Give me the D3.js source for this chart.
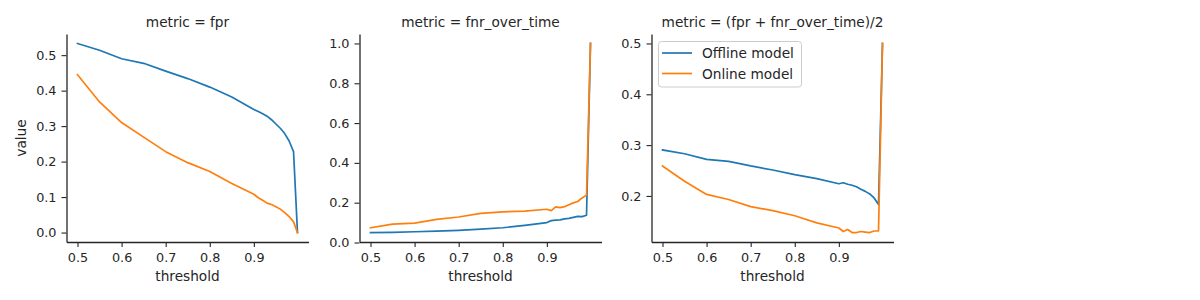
<!DOCTYPE html>
<html>
<head>
<meta charset="utf-8">
<script src="https://cdn.jsdelivr.net/npm/d3@7"></script>
<style>
  body { margin: 0; background: #fff; }
  svg { font-family: "DejaVu Sans", sans-serif; }
</style>
</head>
<body>
<div id="chart"></div>
<script>
// thresholds shared by every panel
var thresholds = [0.5, 0.55, 0.6, 0.65, 0.7, 0.75, 0.8, 0.85, 0.9, 0.91, 0.92, 0.93, 0.94, 0.95, 0.96, 0.97, 0.98, 0.99, 0.999]

var fprOffline = [0.533, 0.514, 0.490, 0.477, 0.455, 0.434, 0.410, 0.382, 0.347, 0.341, 0.335, 0.328, 0.318, 0.306, 0.294, 0.279, 0.258, 0.228, 0.0]
var fprOnline = [0.445, 0.368, 0.310, 0.269, 0.228, 0.197, 0.172, 0.138, 0.108, 0.098, 0.091, 0.083, 0.079, 0.073, 0.066, 0.056, 0.045, 0.030, 0.0]

var fnrOffline = [0.050, 0.051, 0.054, 0.057, 0.061, 0.067, 0.074, 0.086, 0.100, 0.110, 0.112, 0.114, 0.119, 0.121, 0.126, 0.131, 0.130, 0.137, 1.0]
var fnrOnline = [0.074, 0.092, 0.097, 0.116, 0.128, 0.146, 0.154, 0.158, 0.167, 0.160, 0.179, 0.175, 0.180, 0.190, 0.199, 0.206, 0.224, 0.238, 1.0]

var avgOffline = [0.2905, 0.283, 0.272, 0.268, 0.259, 0.251, 0.242, 0.234, 0.224, 0.226, 0.223, 0.221, 0.218, 0.213, 0.209, 0.204, 0.196, 0.183, 0.5]
var avgOnline = [0.259, 0.229, 0.203, 0.193, 0.179, 0.171, 0.161, 0.147, 0.137, 0.130, 0.134, 0.128, 0.128, 0.130, 0.129, 0.128, 0.131, 0.131, 0.5]

var metrics = ['fpr', 'fnr_over_time', '(fpr + fnr_over_time)/2']
var models = ['Offline model', 'Online model']
var colors = ['#1f77b4', '#ff7f0e']

var xTicks = [0.5, 0.6, 0.7, 0.8, 0.9]
var yTicks = [
  [0.0, 0.1, 0.2, 0.3, 0.4, 0.5],
  [0.0, 0.2, 0.4, 0.6, 0.8, 1.0],
  [0.2, 0.3, 0.4, 0.5]
]

var panelSeries = [
  [fprOffline, fprOnline],
  [fnrOffline, fnrOnline],
  [avgOffline, avgOnline]
]

var W = 1200, H = 300
var lefts = [66.5, 359.5, 651.5]
var pw = 242
var plotTop = 34, plotBottom = 242
var ink = '#262626'
var labelSize = 13.7

var svg = d3.select('#chart').append('svg')
  .attr('width', W)
  .attr('height', H)

// matplotlib style 5% margins
function padded(ext) {
  var m = (ext[1] - ext[0]) * 0.05
  return [ext[0] - m, ext[1] + m]
}

var xExt = d3.extent(thresholds)

metrics.forEach(function(metric, i) {
  var x = d3.scaleLinear().domain(padded(xExt)).range([lefts[i], lefts[i] + pw])
  var allVals = panelSeries[i][0].concat(panelSeries[i][1])
  var y = d3.scaleLinear().domain(padded(d3.extent(allVals))).range([plotBottom, plotTop])

  var g = svg.append('g')

  var line = d3.line()
    .x(function(d, k) { return x(thresholds[k]) })
    .y(function(d) { return y(d) })

  panelSeries[i].forEach(function(vals, s) {
    g.append('path')
      .datum(vals)
      .attr('fill', 'none')
      .attr('stroke', colors[s])
      .attr('stroke-width', 1.7)
      .attr('stroke-linejoin', 'round')
      .attr('stroke-linecap', 'square')
      .attr('d', line)
  })

  var xAxis = d3.axisBottom(x).tickValues(xTicks).tickFormat(d3.format('.1f'))
    .tickSize(5).tickSizeOuter(0).tickPadding(5)
  var yAxis = d3.axisLeft(y).tickValues(yTicks[i]).tickFormat(d3.format('.1f'))
    .tickSize(5).tickSizeOuter(0).tickPadding(5)

  var gx = g.append('g').attr('transform', 'translate(0,' + plotBottom + ')').call(xAxis)
  var gy = g.append('g').attr('transform', 'translate(' + lefts[i] + ',0)').call(yAxis)

  ;[gx, gy].forEach(function(ax) {
    ax.select('.domain').attr('stroke', ink).attr('stroke-width', 1.3)
    ax.selectAll('.tick line').attr('stroke', ink).attr('stroke-width', 1.1)
    ax.selectAll('.tick text').attr('fill', ink).attr('font-size', 12.8)
      .attr('font-family', 'DejaVu Sans')
  })
  gx.selectAll('.tick text').attr('dy', null).attr('y', 19.5)

  g.append('text')
    .attr('x', lefts[i] + pw / 2)
    .attr('y', 26.5)
    .attr('text-anchor', 'middle')
    .attr('font-size', labelSize)
    .attr('fill', ink)
    .text('metric = ' + metric)

  g.append('text')
    .attr('x', lefts[i] + pw / 2)
    .attr('y', 281)
    .attr('text-anchor', 'middle')
    .attr('font-size', labelSize)
    .attr('fill', ink)
    .text('threshold')

  if (i == 0) {
    g.append('text')
      .attr('transform', 'translate(26,' + (plotTop + plotBottom) / 2 + ') rotate(-90)')
      .attr('text-anchor', 'middle')
      .attr('font-size', labelSize)
      .attr('fill', ink)
      .text('value')
  }

  if (i == 2) {
    var leg = g.append('g')
    leg.append('rect')
      .attr('x', 658.5).attr('y', 41.5)
      .attr('width', 143).attr('height', 45.5)
      .attr('rx', 3)
      .attr('fill', 'rgba(255,255,255,0.8)')
      .attr('stroke', '#cccccc')
      .attr('stroke-width', 1)
    models.forEach(function(m, s) {
      var ly = 53 + s * 20.5
      leg.append('line')
        .attr('x1', 662).attr('x2', 692)
        .attr('y1', ly).attr('y2', ly)
        .attr('stroke', colors[s])
        .attr('stroke-width', 1.7)
      leg.append('text')
        .attr('x', 702)
        .attr('y', ly + 5.3)
        .attr('font-size', labelSize)
        .attr('fill', ink)
        .text(m)
    })
  }
})
</script>
</body>
</html>
